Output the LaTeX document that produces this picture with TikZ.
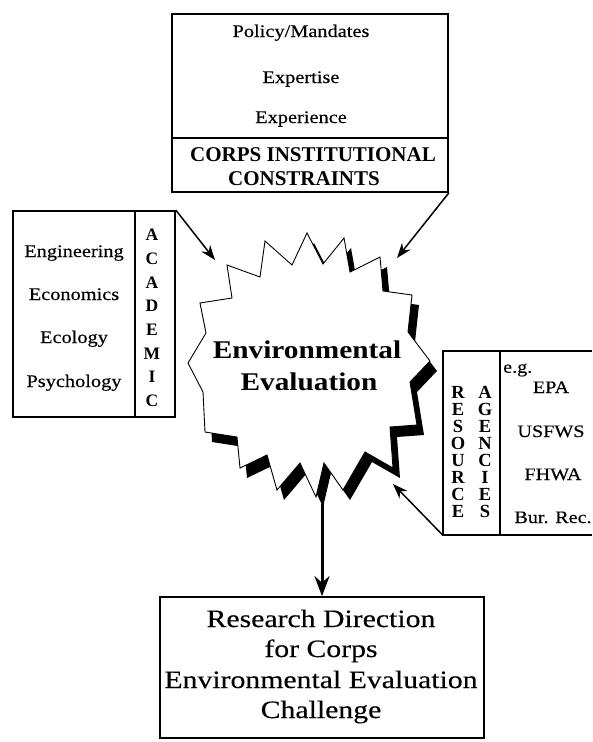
\documentclass[tikz,border=0pt]{standalone}
\usepackage{fontspec}
\setmainfont{Liberation Serif}
\newfontfamily\wf[FakeStretch=1.15,FakeBold=0.35]{Liberation Serif}
\newfontfamily\wfbold[FakeStretch=1.15]{Liberation Serif}
\newfontfamily\wfb[FakeStretch=1.19,FakeBold=0.3]{Liberation Serif}
\usetikzlibrary{arrows.meta}
\begin{document}
\begin{tikzpicture}[x=1pt,y=-1pt,
  box/.style={draw, line width=1.7pt, inner sep=0pt},
  rule/.style={line width=1.7pt},
  arr/.style={line width=1.5pt, -{Stealth[length=15pt,width=11pt]}},
  bigarr/.style={line width=3pt, -{Stealth[length=20pt,width=15pt]}},
  txt/.style={anchor=base, inner sep=0pt, font=\fontsize{17.7}{20}\wf},
  rtxt/.style={anchor=base, inner sep=0pt, font=\fontsize{17.5}{20}\wf},
  btxt/.style={anchor=base, inner sep=0pt, font=\fontsize{21}{24}\rmfamily\bfseries},
  ltr/.style={anchor=base, inner sep=0pt, font=\fontsize{17.5}{20}\rmfamily\bfseries},
  envtxt/.style={anchor=base, inner sep=0pt, font=\fontsize{25.5}{30}\wfbold\bfseries},
  restxt/.style={anchor=base, inner sep=0pt, font=\fontsize{25}{30}\wfb}
]
\useasboundingbox (0,0) rectangle (592,742);

% ---- top box: corps institutional constraints
\node[box, minimum width=276pt, minimum height=178pt] (corps) at (310,103) {};
\coordinate (cdiv) at (0,138);
\draw[rule] (corps.west |- cdiv) -- (corps.east |- cdiv);
\node[txt] (policy) at (301,37) {Policy/Mandates};
\node[txt] (expertise) at (301,83) {Expertise};
\node[txt] (experience) at (301,123) {Experience};
\node[btxt] (corpsA) at (313,161.5) {CORPS INSTITUTIONAL};
\node[btxt] (corpsB) at (304,185) {CONSTRAINTS};

% ---- academic box
\node[box, minimum width=162pt, minimum height=206pt] (acad) at (94,314) {};
\coordinate (adiv) at (135,0);
\draw[rule] (acad.north -| adiv) -- (acad.south -| adiv);
\node[txt] (eng) at (74,257) {Engineering};
\node[txt] (eco) at (74,300) {Economics};
\node[txt] (ecol) at (74,343) {Ecology};
\node[txt] (psy) at (74,387) {Psychology};
\foreach \l [count=\i from 0] in {A,C,A,D,E,M,I,C}
  \node[ltr] (ac\i) at (152,240.7+23.7*\i) {\l};

% ---- resource agencies box (open to the right)
\node[inner sep=0pt, minimum width=149pt, minimum height=184pt] (res) at (517.5,443) {};
\draw[rule] (res.north east) -- (res.north west) -- (res.south west) -- (res.south east);
\coordinate (rdiv) at (500,0);
\draw[rule] (res.north -| rdiv) -- (res.south -| rdiv);
\foreach \l [count=\i from 0] in {R,E,S,O,U,R,C,E}
  \node[ltr, font=\fontsize{18.5}{20}\rmfamily\bfseries] (rs\i) at (458,398+17.1*\i) {\l};
\foreach \l [count=\i from 0] in {A,G,E,N,C,I,E,S}
  \node[ltr, font=\fontsize{18.5}{20}\rmfamily\bfseries] (ag\i) at (485,398+17.1*\i) {\l};
\node[rtxt, anchor=base west] (eg) at (503,372.7) {e.g.};
\node[rtxt] (epa) at (551,393) {EPA};
\node[rtxt] (usfws) at (551,437) {USFWS};
\node[rtxt] (fhwa) at (553,480) {FHWA};
\node[rtxt] (bur) at (553,523) {Bur. Rec.};

% ---- star burst with shadow
\fill[black, shift={(7,10)}]
  (200,303) -- (232,298) -- (227,265) -- (260,277) -- (265,241) -- (292,265) --
  (307,233) -- (323,264) -- (344,238) -- (350,272) -- (380,257) -- (383,291) --
  (412,295) -- (408,332) -- (430,361) -- (410,382) -- (417,425) -- (390,427) --
  (393,468) -- (365,452) -- (343,490) -- (324,463) -- (316,497) -- (300,463) --
  (277,490) -- (267,455) -- (240,468) -- (237,437) -- (205,432) -- (203,392) --
  (188,363) -- (206,333) -- cycle;
\draw[fill=white, line width=0.9pt, line join=miter]
  (200,303) -- (232,298) -- (227,265) -- (260,277) -- (265,241) -- (292,265) --
  (307,233) -- (323,264) -- (344,238) -- (350,272) -- (380,257) -- (383,291) --
  (412,295) -- (408,332) -- (430,361) -- (410,382) -- (417,425) -- (390,427) --
  (393,468) -- (365,452) -- (343,490) -- (324,463) -- (316,497) -- (300,463) --
  (277,490) -- (267,455) -- (240,468) -- (237,437) -- (205,432) -- (203,392) --
  (188,363) -- (206,333) -- cycle;
\node[envtxt] (envA) at (307,358) {Environmental};
\node[envtxt] (envB) at (309,390) {Evaluation};
\coordinate (starbot) at (322,504);

% ---- bottom box
\node[box, minimum width=324pt, minimum height=141pt] (goal) at (322,667.5) {};
\node[restxt] (g1) at (321,627) {Research Direction};
\node[restxt] (g2) at (321,657) {for Corps};
\node[restxt] (g3) at (321,688) {Environmental Evaluation};
\node[restxt] (g4) at (321,718) {Challenge};

% ---- connectors
\coordinate (tipA) at (215,260);
\coordinate (tipC) at (397,258);
\coordinate (tipR) at (393,484);
\draw[arr] (acad.north east) -- (tipA);
\draw[arr] (corps.south east) -- (tipC);
\draw[arr] (res.south west) -- (tipR);
\draw[bigarr] (starbot) -- (goal.north);
\end{tikzpicture}
\end{document}
